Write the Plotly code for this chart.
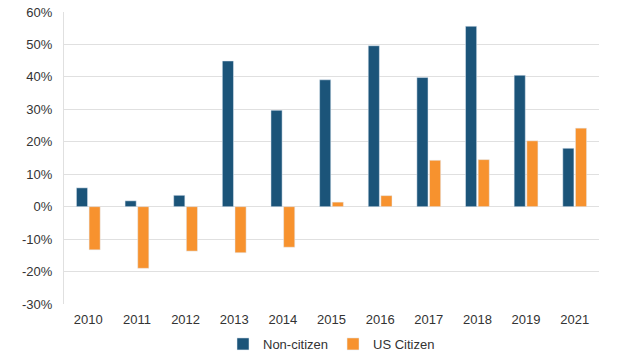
import plotly.graph_objects as go

years = ["2010", "2011", "2012", "2013", "2014", "2015", "2016", "2017", "2018", "2019", "2021"]
non_citizen = [5.8, 1.8, 3.5, 44.9, 29.7, 39.1, 49.6, 39.8, 55.6, 40.5, 18.0]
us_citizen = [-13.3, -19.0, -13.7, -14.2, -12.5, 1.4, 3.4, 14.3, 14.5, 20.3, 24.2]
tick_vals = [-30, -20, -10, 0, 10, 20, 30, 40, 50, 60]
tick_text = [f"{v}%" for v in tick_vals]

fig = go.Figure()
fig.add_trace(go.Bar(x=years, y=non_citizen, name="Non-citizen", marker_color="#1B5479"))
fig.add_trace(go.Bar(x=years, y=us_citizen, name="US Citizen", marker_color="#F7922E"))

fig.update_layout(
    width=640, height=359,
    margin=dict(l=64, r=41, t=12, b=55, autoexpand=False),
    paper_bgcolor="white", plot_bgcolor="white",
    barmode="group", bargap=0.48, bargroupgap=0.12,
    font=dict(family="Liberation Sans, Arial, sans-serif", size=12, color="#333333"),
    xaxis=dict(showgrid=False, showline=False, ticks="", tickfont=dict(size=13),
               automargin=False, ticklabelstandoff=6),
    yaxis=dict(range=[-30, 60], tickvals=tick_vals, ticktext=tick_text,
               showgrid=True, gridcolor="#E0E0E0", gridwidth=1,
               zeroline=True, zerolinecolor="#E0E0E0", zerolinewidth=1,
               showline=True, linecolor="#E0E0E0", ticks="", tickfont=dict(size=13),
               ticklabelstandoff=8, automargin=False, ticklabeloverflow="allow"),
    legend=dict(orientation="h", x=0.5, xanchor="center", yref="container",
                y=0.0, yanchor="bottom", font=dict(size=13), itemwidth=30,
                tracegroupgap=0),
    showlegend=True,
)
fig.write_html("out.html", config={"displayModeBar": False},
               post_script="document.body.style.margin='0';")
